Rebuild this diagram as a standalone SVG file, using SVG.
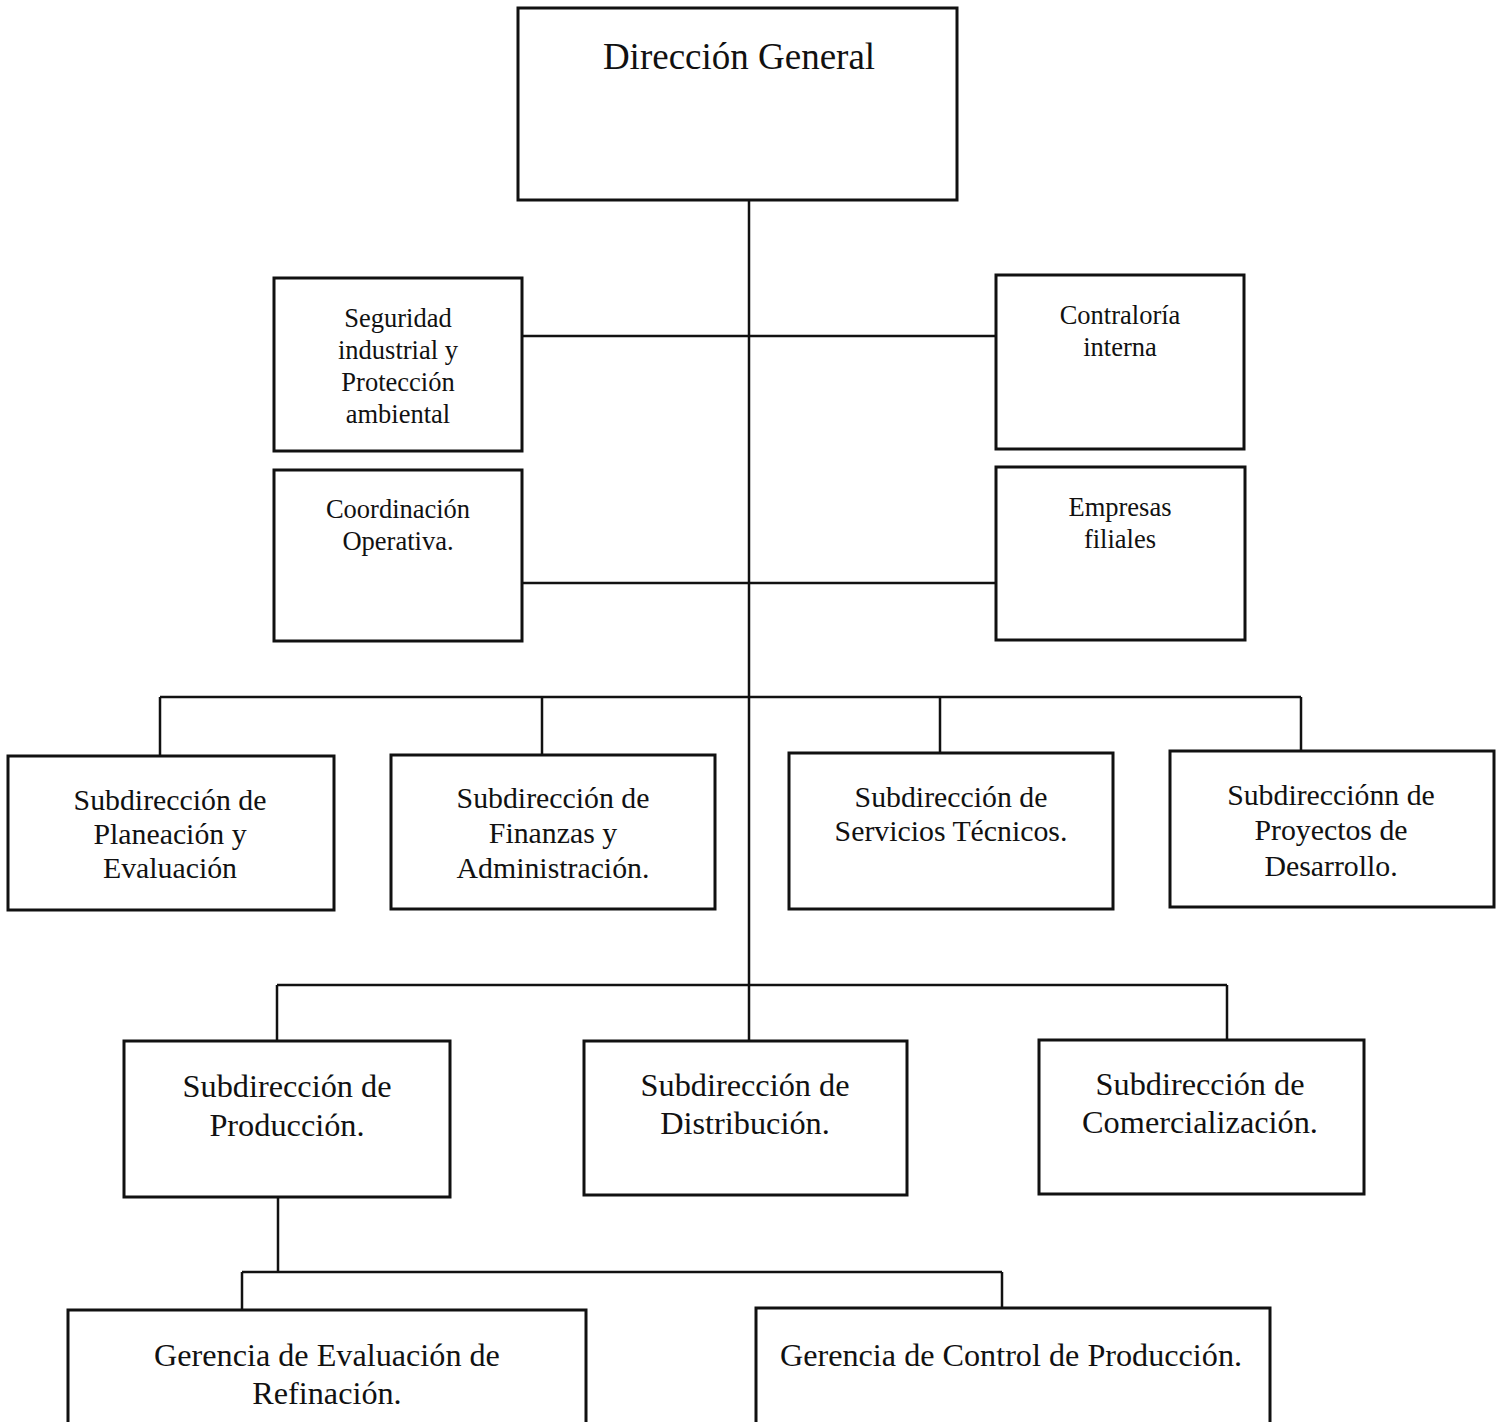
<svg xmlns="http://www.w3.org/2000/svg" width="1503" height="1422" viewBox="0 0 1503 1422">
<style>
.box{fill:#fff;stroke:#111;stroke-width:3}
.ln{fill:none;stroke:#111;stroke-width:2.5}
text{font-family:"Liberation Serif","Times New Roman",serif;fill:#111;text-anchor:middle}
.t36{font-size:37px}
.t26{font-size:26.5px}
.t28{font-size:29.8px}
.t30{font-size:32.3px}
.t31{font-size:32.2px}
</style>
<rect width="1503" height="1422" fill="#fff"/>
<g id="connectors">
<path class="ln" d="M749 200V1041"/>
<path class="ln" d="M522 336H996"/>
<path class="ln" d="M522 583H996"/>
<path class="ln" d="M160 697H1301M160 697V756M542 697V755M940 697V753M1301 697V751"/>
<path class="ln" d="M277 985H1227M277 985V1041M1227 985V1040"/>
<path class="ln" d="M278 1197V1272M242 1272H1002M242 1272V1310M1002 1272V1308"/>
</g>
<g id="direccion-general">
<rect class="box" x="518" y="8" width="439" height="192"/>
<text class="t36" x="739" y="69">Dirección General</text>
</g>
<g id="seguridad">
<rect class="box" x="274" y="278" width="248" height="173"/>
<text class="t26" x="398" y="327">Seguridad</text>
<text class="t26" x="398" y="359">industrial y</text>
<text class="t26" x="398" y="391">Protección</text>
<text class="t26" x="398" y="423">ambiental</text>
</g>
<g id="contraloria">
<rect class="box" x="996" y="275" width="248" height="174"/>
<text class="t26" x="1120" y="324">Contraloría</text>
<text class="t26" x="1120" y="356">interna</text>
</g>
<g id="coordinacion">
<rect class="box" x="274" y="470" width="248" height="171"/>
<text class="t26" x="398" y="518">Coordinación</text>
<text class="t26" x="398" y="550">Operativa.</text>
</g>
<g id="empresas">
<rect class="box" x="996" y="467" width="249" height="173"/>
<text class="t26" x="1120" y="516">Empresas</text>
<text class="t26" x="1120" y="548">filiales</text>
</g>
<g id="planeacion">
<rect class="box" x="8" y="756" width="326" height="154"/>
<text class="t28" x="170" y="810">Subdirección de</text>
<text class="t28" x="170" y="844">Planeación y</text>
<text class="t28" x="170" y="878">Evaluación</text>
</g>
<g id="finanzas">
<rect class="box" x="391" y="755" width="324" height="154"/>
<text class="t28" x="553" y="808">Subdirección de</text>
<text class="t28" x="553" y="843">Finanzas y</text>
<text class="t28" x="553" y="878">Administración.</text>
</g>
<g id="servicios">
<rect class="box" x="789" y="753" width="324" height="156"/>
<text class="t28" x="951" y="807">Subdirección de</text>
<text class="t28" x="951" y="841">Servicios Técnicos.</text>
</g>
<g id="proyectos">
<rect class="box" x="1170" y="751" width="324" height="156"/>
<text class="t28" x="1331" y="805">Subdirecciónn de</text>
<text class="t28" x="1331" y="840">Proyectos de</text>
<text class="t28" x="1331" y="876">Desarrollo.</text>
</g>
<g id="produccion">
<rect class="box" x="124" y="1041" width="326" height="156"/>
<text class="t30" x="287" y="1097">Subdirección de</text>
<text class="t30" x="287" y="1136">Producción.</text>
</g>
<g id="distribucion">
<rect class="box" x="584" y="1041" width="323" height="154"/>
<text class="t30" x="745" y="1096">Subdirección de</text>
<text class="t30" x="745" y="1134">Distribución.</text>
</g>
<g id="comercializacion">
<rect class="box" x="1039" y="1040" width="325" height="154"/>
<text class="t30" x="1200" y="1095">Subdirección de</text>
<text class="t30" x="1200" y="1133">Comercialización.</text>
</g>
<g id="gerencia-evaluacion">
<rect class="box" x="68" y="1310" width="518" height="200"/>
<text class="t31" x="327" y="1366">Gerencia de Evaluación de</text>
<text class="t31" x="327" y="1404">Refinación.</text>
</g>
<g id="gerencia-control">
<rect class="box" x="756" y="1308" width="514" height="200"/>
<text class="t31" x="1011" y="1366">Gerencia de Control de Producción.</text>
</g>
</svg>
